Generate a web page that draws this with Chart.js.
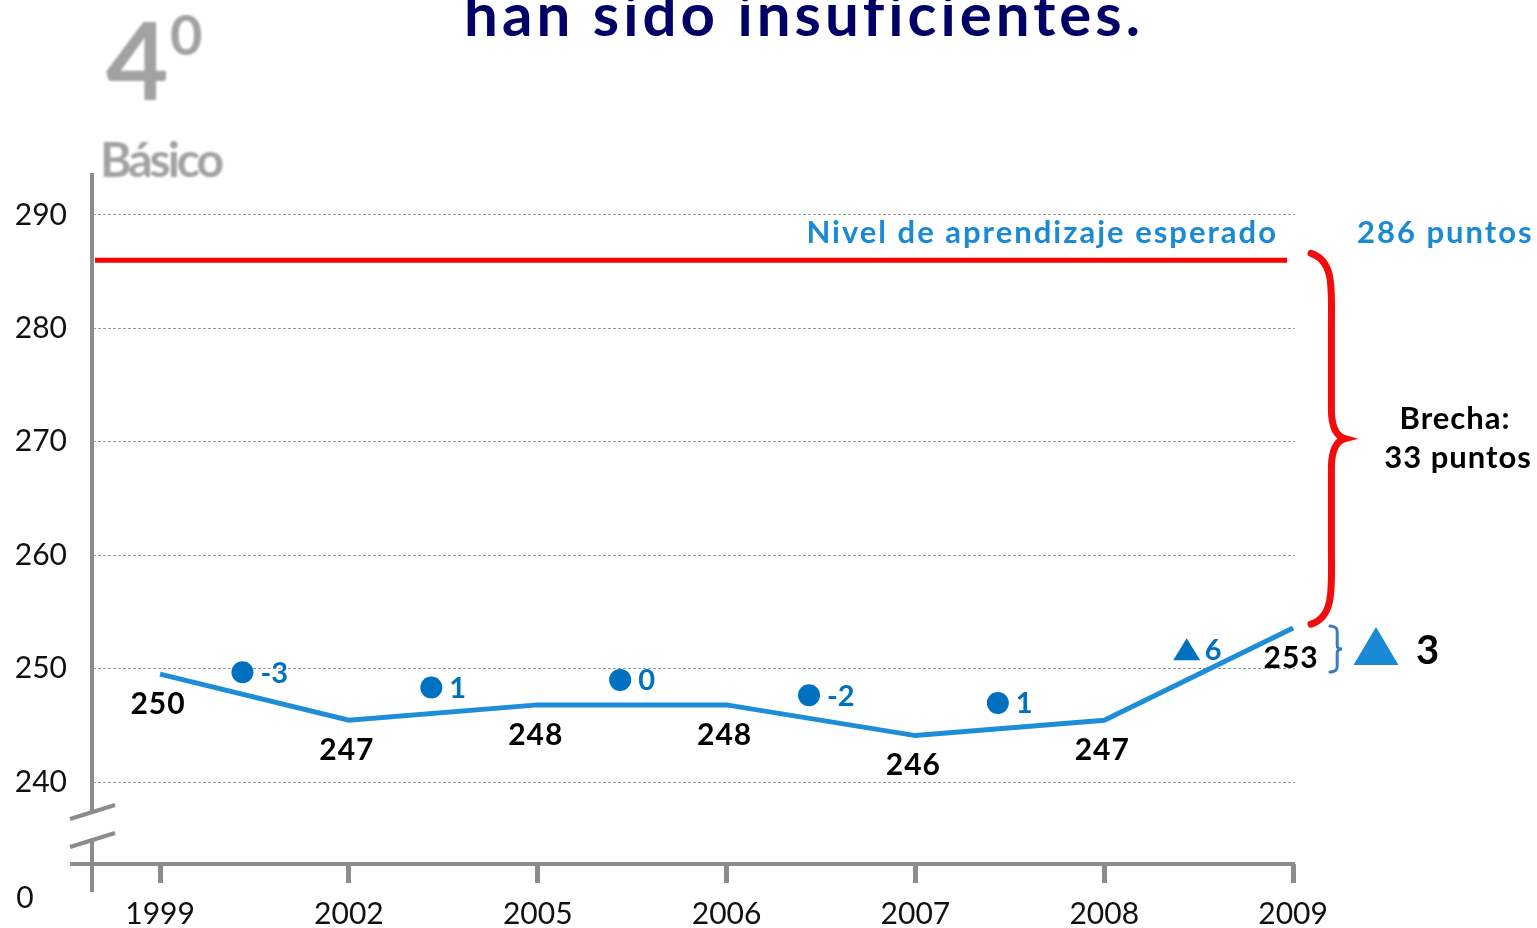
<!DOCTYPE html>
<html>
<head>
<meta charset="utf-8">
<script src="https://cdn.jsdelivr.net/npm/chart.js@4.4.0/dist/chart.umd.min.js"></script>
<style>
  html, body { margin: 0; padding: 0; background: #fff; }
  #wrap { position: relative; width: 1537px; height: 928px; }
</style>
</head>
<body>
<div id="wrap"><canvas id="grafico"></canvas></div>
<script>
// Datos: puntajes 4º Básico
const years = ["1999", "2002", "2005", "2006", "2007", "2008", "2009"];
const scores = [250, 247, 248, 248, 246, 247, 253];
const changes = [-3, 1, 0, -2, 1, 6];
const significant = [false, false, false, false, false, true];
const yTicks = [240, 250, 260, 270, 280, 290];
const expected = 286;
const overallChange = 3;
const gap = 33;

const FONT = "Lato, 'DejaVu Sans', sans-serif";
const BLUE = "#1e8dd8";
const DARKBLUE = "#0070c0";
const GRAY = "#8c8c8c";

function line(ctx, x1, y1, x2, y2) {
    ctx.beginPath();
    ctx.moveTo(x1, y1);
    ctx.lineTo(x2, y2);
    ctx.stroke();
}

function brace(ctx, x, top, bottom, depth) {
    const mid = (top + bottom) / 2;
    const h = bottom - top;
    const c = x + depth * 0.6;
    ctx.beginPath();
    ctx.moveTo(x, top);
    ctx.bezierCurveTo(x + depth * 0.7, top + h * 0.02, c, top + h * 0.1, c, top + h * 0.2);
    ctx.lineTo(c, mid - h * 0.08);
    ctx.quadraticCurveTo(c, mid - h * 0.01, x + depth, mid);
    ctx.quadraticCurveTo(c, mid + h * 0.01, c, mid + h * 0.08);
    ctx.lineTo(c, bottom - h * 0.2);
    ctx.bezierCurveTo(c, bottom - h * 0.1, x + depth * 0.7, bottom - h * 0.02, x, bottom);
    ctx.stroke();
}

function triangle(ctx, cx, cy, w, h) {
    ctx.beginPath();
    ctx.moveTo(cx - w / 2, cy + h / 2);
    ctx.lineTo(cx + w / 2, cy + h / 2);
    ctx.lineTo(cx, cy - h / 2);
    ctx.closePath();
    ctx.fill();
}

const extras = {
    id: "extras",
    afterDraw(chart) {
        const ctx = chart.ctx;
        const area = chart.chartArea;
        const yScale = chart.scales.y;
        const pts = chart.getDatasetMeta(0).data;
        ctx.save();

        // titulo (cortado arriba)
        ctx.fillStyle = "#000066";
        ctx.font = "bold 60px " + FONT;
        ctx.letterSpacing = "4px";
        ctx.textAlign = "center";
        ctx.textBaseline = "alphabetic";
        ctx.fillText("han sido insuficientes.", 804, 36);
        ctx.letterSpacing = "0px";

        // 4º Básico
        ctx.fillStyle = "#a2a2a2";
        ctx.filter = "blur(0.8px)";
        ctx.textAlign = "left";
        ctx.font = "bold 108px " + FONT;
        ctx.fillText("4", 106, 100);
        ctx.font = "bold 56px " + FONT;
        ctx.fillText("0", 170, 55);
        ctx.font = "bold 48px " + FONT;
        ctx.letterSpacing = "-3px";
        ctx.fillText("Básico", 100, 177);
        ctx.letterSpacing = "0px";
        ctx.filter = "none";

        // ejes
        ctx.strokeStyle = GRAY;
        ctx.lineWidth = 4;
        const ax = area.left - 1;
        const b = area.bottom;
        line(ctx, ax, area.top, ax, b - 52);
        line(ctx, ax, b - 24, ax, b + 28);
        line(ctx, 70, b, area.right, b);
        line(ctx, 70, b - 45, 115, b - 59);
        line(ctx, 70, b - 17, 115, b - 31);

        ctx.fillStyle = "#111";
        ctx.font = "30px " + FONT;
        ctx.textAlign = "center";
        ctx.textBaseline = "middle";
        ctx.fillText("0", 25, b + 34);

        // nivel esperado
        const ey = yScale.getPixelForValue(expected);
        ctx.strokeStyle = "#ff0000";
        ctx.lineWidth = 5;
        line(ctx, area.left + 2, ey, area.right - 8, ey);

        ctx.fillStyle = "#1a8ad4";
        ctx.font = "bold 31px " + FONT;
        ctx.letterSpacing = "2px";
        ctx.textBaseline = "alphabetic";
        ctx.textAlign = "right";
        ctx.fillText("Nivel de aprendizaje esperado", 1278, ey - 17);
        ctx.textAlign = "left";
        ctx.fillText(expected + " puntos", 1357, ey - 17);
        ctx.letterSpacing = "0px";

        // etiquetas de puntaje
        ctx.fillStyle = "#000";
        ctx.font = "bold 30px " + FONT;
        ctx.letterSpacing = "1px";
        ctx.textAlign = "center";
        ctx.textBaseline = "middle";
        pts.forEach((p, i) => {
            ctx.fillText(String(scores[i]), p.x - 2, p.y + 30);
        });
        ctx.letterSpacing = "0px";

        // variaciones entre mediciones
        ctx.font = "bold 29px " + FONT;
        ctx.textAlign = "left";
        for (let i = 0; i < changes.length; i++) {
            const mx = (pts[i].x + pts[i + 1].x) / 2 - 12;
            const my = (pts[i].y + pts[i + 1].y) / 2 - 25;
            ctx.fillStyle = DARKBLUE;
            if (significant[i]) {
                triangle(ctx, mx, my, 27, 22);
            } else {
                ctx.beginPath();
                ctx.arc(mx, my, 11, 0, Math.PI * 2);
                ctx.fill();
            }
            ctx.fillText(String(changes[i]), mx + 18, my + 1);
        }

        // brecha
        const last = pts[pts.length - 1];
        const top = ey - 7;
        const bot = last.y - 4;
        ctx.strokeStyle = "#f20c0c";
        ctx.lineWidth = 7;
        ctx.lineCap = "round";
        brace(ctx, 1311, top, bot, 34);
        const mid = (top + bot) / 2;
        ctx.fillStyle = "#000";
        ctx.font = "bold 31px " + FONT;
        ctx.letterSpacing = "1px";
        ctx.textAlign = "center";
        ctx.fillText("Brecha:", 1455, mid - 20);
        ctx.fillText(gap + " puntos", 1458, mid + 19);
        ctx.letterSpacing = "0px";

        // variacion total
        ctx.strokeStyle = "#3a7cc0";
        ctx.lineWidth = 3;
        brace(ctx, 1330, last.y - 2, last.y + 44, 12);
        ctx.fillStyle = "#1a8ad4";
        triangle(ctx, 1376, last.y + 18, 45, 38);
        ctx.fillStyle = "#000";
        ctx.font = "bold 40px " + FONT;
        ctx.textAlign = "left";
        ctx.fillText(String(overallChange), 1416, last.y + 23);

        ctx.restore();
    }
};

const ctx1 = document.getElementById("grafico").getContext("2d");

new Chart(ctx1, {
    type: "line",
    data: {
        datasets: [{
            label: "Puntaje",
            data: scores.map((v, i) => ({ x: i, y: v })),
            borderColor: BLUE,
            borderWidth: 5,
            pointRadius: 0,
            tension: 0,
            fill: false,
            yAxisID: "y2",
            clip: false
        }]
    },
    options: {
        responsive: true,
        maintainAspectRatio: false,
        animation: false,
        layout: { padding: { top: 173, right: 242, left: 0, bottom: 0 } },
        plugins: {
            legend: { display: false },
            tooltip: { enabled: false }
        },
        scales: {
            x: {
                type: "linear",
                min: -0.355,
                max: 6.01,
                afterBuildTicks: (s) => { s.ticks = years.map((_, i) => ({ value: i })); },
                afterFit: (s) => { s.height = 64; },
                ticks: {
                    callback: (v) => years[v],
                    color: "#111",
                    font: { family: FONT, size: 30 },
                    padding: 13,
                    maxRotation: 0,
                    autoSkip: false
                },
                grid: {
                    drawOnChartArea: false,
                    drawTicks: true,
                    tickLength: 19,
                    tickWidth: 5,
                    tickColor: GRAY,
                    lineWidth: 5,
                    color: GRAY
                },
                border: { display: false }
            },
            y: {
                min: 232.77,
                max: 293.7,
                afterBuildTicks: (s) => { s.ticks = yTicks.map((v) => ({ value: v })); },
                afterFit: (s) => { s.width = 93; },
                ticks: {
                    color: "#111",
                    font: { family: FONT, size: 30 },
                    padding: 26
                },
                grid: {
                    drawTicks: false,
                    color: "#9a9a9a",
                    lineWidth: 1
                },
                border: { display: false, dash: [3, 2] }
            },
            y2: {
                display: false,
                min: 237.64,
                max: 282.63
            }
        }
    },
    plugins: [extras]
});
</script>
</body>
</html>
